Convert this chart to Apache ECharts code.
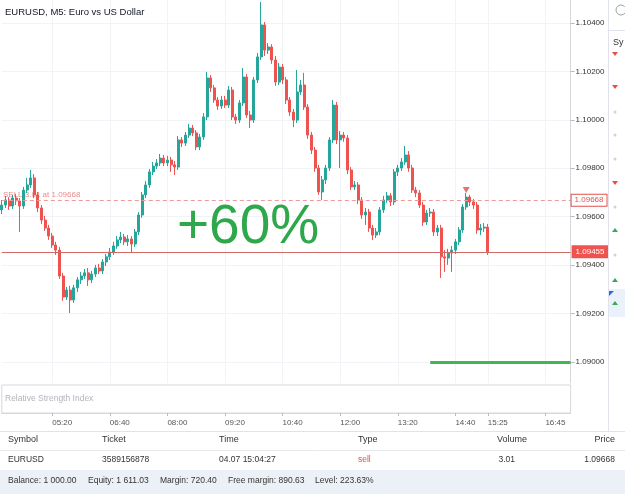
<!DOCTYPE html>
<html>
<head>
<meta charset="utf-8">
<title>EURUSD, M5</title>
<script src="https://cdn.jsdelivr.net/npm/echarts@6/dist/echarts.min.js"></script>
<style>
  html, body { margin: 0; padding: 0; background: #fff; }
  #chart { width: 625px; height: 494px; }
</style>
</head>
<body>
<div id="chart"></div>
<script>
// right axis ticks
const priceTicks = [1.09000, 1.09200, 1.09400, 1.09600, 1.09800, 1.10000, 1.10200, 1.10400];
// bottom time labels
const timeTicks = ['05:20', '06:40', '08:00', '09:20', '10:40', '12:00', '13:20', '14:40', '15:25', '16:45'];

// M5 bars, the first one is 04:10, the last one 15:25
const opens = [
  1.09628,1.09648,1.09669,1.09644,1.09677,1.09665,1.09644,1.09710,1.09731,1.09760,
  1.09690,1.09636,1.09586,1.09553,1.09520,1.09483,1.09462,1.09355,1.09268,1.09297,
  1.09256,1.09306,1.09339,1.09355,1.09368,1.09339,1.09363,1.09388,1.09376,1.09413,
  1.09434,1.09454,1.09479,1.09504,1.09516,1.09496,1.09508,1.09487,1.09537,1.09607,
  1.09690,1.09731,1.09785,1.09809,1.09822,1.09842,1.09822,1.09834,1.09814,1.09805,
  1.09917,1.09904,1.09937,1.09966,1.09946,1.09888,1.09929,1.10012,1.10173,1.10132,
  1.10082,1.10057,1.10082,1.10061,1.10123,1.10012,1.09999,1.10070,1.10177,1.10020,
  1.09999,1.10165,1.10260,1.10392,1.10288,1.10301,1.10247,1.10156,1.10218,1.10165,
  1.10082,1.10032,1.09999,1.10115,1.10144,1.10053,1.09937,1.09875,1.09801,1.09702,
  1.09752,1.09801,1.09917,1.10061,1.09917,1.09937,1.09925,1.09793,1.09723,1.09731,
  1.09669,1.09607,1.09619,1.09553,1.09524,1.09537,1.09628,1.09669,1.09686,1.09661,
  1.09785,1.09801,1.09826,1.09855,1.09801,1.09710,1.09698,1.09648,1.09578,1.09615,
  1.09619,1.09537,1.09553,1.09434,1.09429,1.09450,1.09462,1.09496,1.09545,1.09640,
  1.09681,1.09661,1.09648,1.09545,1.09553,1.09557
];
const closes = [
  1.09648,1.09669,1.09644,1.09677,1.09665,1.09644,1.09710,1.09731,1.09760,1.09690,
  1.09636,1.09586,1.09553,1.09520,1.09483,1.09462,1.09355,1.09268,1.09297,1.09256,
  1.09306,1.09339,1.09355,1.09368,1.09339,1.09363,1.09388,1.09376,1.09413,1.09434,
  1.09454,1.09479,1.09504,1.09516,1.09496,1.09508,1.09487,1.09537,1.09607,1.09690,
  1.09731,1.09785,1.09809,1.09822,1.09842,1.09822,1.09834,1.09814,1.09805,1.09917,
  1.09904,1.09937,1.09966,1.09946,1.09888,1.09929,1.10012,1.10173,1.10132,1.10082,
  1.10057,1.10082,1.10061,1.10123,1.10012,1.09999,1.10070,1.10177,1.10020,1.09999,
  1.10165,1.10260,1.10392,1.10288,1.10301,1.10247,1.10156,1.10218,1.10165,1.10082,
  1.10032,1.09999,1.10115,1.10144,1.10053,1.09937,1.09875,1.09801,1.09702,1.09752,
  1.09801,1.09917,1.10061,1.09917,1.09937,1.09925,1.09793,1.09723,1.09731,1.09669,
  1.09607,1.09619,1.09553,1.09524,1.09537,1.09628,1.09669,1.09686,1.09661,1.09785,
  1.09801,1.09826,1.09855,1.09801,1.09710,1.09698,1.09648,1.09578,1.09615,1.09619,
  1.09537,1.09553,1.09434,1.09429,1.09450,1.09462,1.09496,1.09545,1.09640,1.09681,
  1.09661,1.09648,1.09545,1.09553,1.09557,1.09455
];
const lows = [
  1.09611,1.09636,1.09628,1.09632,1.09648,1.09537,1.09632,1.09698,1.09719,1.09677,
  1.09619,1.09570,1.09541,1.09504,1.09471,1.09442,1.09343,1.09252,1.09256,1.09202,
  1.09244,1.09289,1.09322,1.09343,1.09314,1.09326,1.09351,1.09363,1.09363,1.09396,
  1.09421,1.09442,1.09467,1.09491,1.09483,1.09479,1.09454,1.09475,1.09524,1.09595,
  1.09677,1.09719,1.09772,1.09797,1.09809,1.09809,1.09809,1.09785,1.09772,1.09793,
  1.09888,1.09892,1.09925,1.09933,1.09875,1.09875,1.09917,1.09999,1.10115,1.10070,
  1.10041,1.10045,1.10049,1.10049,1.09999,1.09983,1.09987,1.10057,1.10008,1.09966,
  1.09987,1.10152,1.10247,1.10264,1.10272,1.10231,1.10140,1.10144,1.10148,1.10065,
  1.10016,1.09970,1.09987,1.10103,1.10041,1.09921,1.09859,1.09785,1.09690,1.09669,
  1.09735,1.09789,1.09904,1.09900,1.09801,1.09909,1.09776,1.09710,1.09710,1.09652,
  1.09591,1.09566,1.09537,1.09504,1.09512,1.09524,1.09615,1.09657,1.09644,1.09648,
  1.09768,1.09789,1.09814,1.09785,1.09698,1.09681,1.09636,1.09562,1.09566,1.09599,
  1.09520,1.09520,1.09347,1.09372,1.09401,1.09372,1.09446,1.09483,1.09533,1.09628,
  1.09644,1.09632,1.09529,1.09524,1.09537,1.09442
];
const highs = [
  1.09669,1.09686,1.09681,1.09690,1.09694,1.09677,1.09723,1.09760,1.09793,1.09776,
  1.09702,1.09648,1.09603,1.09566,1.09533,1.09496,1.09475,1.09368,1.09310,1.09314,
  1.09318,1.09351,1.09372,1.09384,1.09388,1.09376,1.09401,1.09405,1.09425,1.09446,
  1.09471,1.09496,1.09520,1.09537,1.09529,1.09524,1.09520,1.09549,1.09619,1.09702,
  1.09747,1.09797,1.09826,1.09838,1.09859,1.09855,1.09851,1.09847,1.09830,1.09933,
  1.09929,1.09950,1.09983,1.09979,1.09958,1.09942,1.10028,1.10198,1.10185,1.10144,
  1.10094,1.10099,1.10099,1.10140,1.10136,1.10024,1.10082,1.10214,1.10189,1.10037,
  1.10177,1.10276,1.10487,1.10404,1.10317,1.10313,1.10264,1.10235,1.10231,1.10177,
  1.10094,1.10045,1.10206,1.10165,1.10194,1.10065,1.09950,1.09888,1.09814,1.09768,
  1.09814,1.09929,1.10082,1.10074,1.09954,1.09950,1.09937,1.09805,1.09747,1.09743,
  1.09681,1.09636,1.09632,1.09566,1.09553,1.09640,1.09686,1.09702,1.09698,1.09797,
  1.09814,1.09842,1.09892,1.09871,1.09814,1.09723,1.09710,1.09661,1.09628,1.09636,
  1.09632,1.09566,1.09566,1.09462,1.09467,1.09479,1.09508,1.09557,1.09652,1.09698,
  1.09690,1.09673,1.09661,1.09570,1.09574,1.09570
];

// open trade and levels
const sellPrice = 1.09668;
const lastPrice = 1.09455;
const targetPrice = 1.09000;
const sellBar = '14:55';
const targetFrom = '14:05';

// time slots of the x axis (04:10 .. 17:20, 5 min)
const times = [];
for (let m = 4 * 60 + 10; m <= 17 * 60 + 20; m += 5) {
  times.push(String(Math.floor(m / 60)).padStart(2, '0') + ':' + String(m % 60).padStart(2, '0'));
}

const candles = opens.map((o, i) => [o, closes[i], lows[i], highs[i]]);

const FF = '"Liberation Sans", Arial, sans-serif';
const isTimeTick = (i, v) => timeTicks.indexOf(v) >= 0;

function text(x, y, s, size, color, align) {
  return {
    type: 'text', silent: true, z: 100,
    style: {
      x: x, y: y, text: s, fill: color, font: size + 'px ' + FF,
      align: align || 'left', textAlign: align || 'left',
      verticalAlign: 'middle', textVerticalAlign: 'middle'
    }
  };
}
function hline(x1, x2, y, color, w) {
  return { type: 'line', silent: true, z: 90, shape: { x1: x1, y1: y, x2: x2, y2: y }, style: { stroke: color, lineWidth: w || 1 } };
}
function tri(cx, cy, up, color) {
  const p = up ? [[cx - 3, cy + 2], [cx + 3, cy + 2], [cx, cy - 2]] : [[cx - 3, cy - 2], [cx + 3, cy - 2], [cx, cy + 2]];
  return { type: 'polygon', silent: true, z: 100, shape: { points: p }, style: { fill: color } };
}
function dot(cx, cy) {
  return { type: 'circle', silent: true, z: 100, shape: { cx: cx, cy: cy, r: 1.5 }, style: { fill: '#cfd2d6' } };
}

// label of the open sell position, sits under the candles
const sellLabel = text(3, 195, 'SELL 3.01 at ' + sellPrice.toFixed(5), 8, '#e98b8b');
sellLabel.z = 1;

const graphics = [
  // title and big result
  text(5, 12, 'EURUSD, M5: Euro vs US Dollar', 9.5, '#131722'),
  {
    type: 'text', silent: true, z: 100,
    style: { x: 177, y: 228, text: '+60%', fill: '#2ea84a', font: '55px ' + FF, verticalAlign: 'middle', textVerticalAlign: 'middle' }
  },
  text(5, 399, 'Relative Strength Index', 8.5, '#b2b5be'),
  sellLabel,

  // right side panel
  { type: 'line', silent: true, z: 90, shape: { x1: 608.5, y1: 0, x2: 608.5, y2: 432 }, style: { stroke: '#e0e3eb', lineWidth: 1 } },
  hline(608, 625, 30.5, '#e0e3eb'),
  { type: 'arc', silent: true, z: 100, shape: { cx: 621, cy: 10, r: 5, startAngle: 0.6, endAngle: 5.6 }, style: { stroke: '#9aa0a8', lineWidth: 1, fill: 'none' } },
  text(613, 43, 'Sy', 9, '#333'),
  { type: 'rect', silent: true, z: 95, shape: { x: 609, y: 289, width: 16, height: 28 }, style: { fill: '#eaf1fa' } },
  { type: 'polygon', silent: true, z: 100, shape: { points: [[609, 291], [614, 291], [609, 296]] }, style: { fill: '#2962ff' } },
  tri(615, 54, false, '#e0504d'), tri(615, 87, false, '#e0504d'), tri(615, 183, false, '#e0504d'),
  dot(615, 112), dot(615, 135), dot(615, 159), dot(615, 207), dot(615, 255),
  tri(615, 230, true, '#3aa856'), tri(615, 280, true, '#3aa856'), tri(615, 303, true, '#3aa856'),

  // positions table
  hline(0, 625, 431.5, '#e0e3eb'),
  text(8, 440, 'Symbol', 9, '#333'),
  text(102, 440, 'Ticket', 9, '#333'),
  text(219, 440, 'Time', 9, '#333'),
  text(358, 440, 'Type', 9, '#333'),
  text(527, 440, 'Volume', 9, '#333', 'right'),
  text(615, 440, 'Price', 9, '#333', 'right'),
  hline(0, 625, 450.5, '#e6e8ec'),
  text(8, 460, 'EURUSD', 8.5, '#333'),
  text(102, 460, '3589156878', 8.5, '#333'),
  text(219, 460, '04.07 15:04:27', 8.5, '#333'),
  text(358, 460, 'sell', 8.5, '#e0504d'),
  text(515, 460, '3.01', 8.5, '#333', 'right'),
  text(615, 460, '1.09668', 8.5, '#333', 'right'),
  { type: 'rect', silent: true, z: 80, shape: { x: 0, y: 470, width: 625, height: 24 }, style: { fill: '#ecf1f7' } },
  text(8, 481, 'Balance: 1 000.00', 8.5, '#333'),
  text(88, 481, 'Equity: 1 611.03', 8.5, '#333'),
  text(160, 481, 'Margin: 720.40', 8.5, '#333'),
  text(228, 481, 'Free margin: 890.63', 8.5, '#333'),
  text(315, 481, 'Level: 223.63%', 8.5, '#333')
];

const chart = echarts.init(document.getElementById('chart'));
chart.setOption({
  animation: false,
  backgroundColor: '#fff',
  grid: [
    { left: 1.8, right: 54.4, top: 0, height: 383 },
    { left: 1.8, right: 54.4, top: 385, height: 28, show: true, borderColor: '#d6d8dc', borderWidth: 1 }
  ],
  xAxis: [
    {
      type: 'category', gridIndex: 0, data: times, boundaryGap: false,
      axisLine: { show: false }, axisTick: { show: false }, axisLabel: { show: false },
      splitLine: { show: true, interval: isTimeTick, lineStyle: { color: '#f1f3f6', width: 1 } }
    },
    {
      type: 'category', gridIndex: 1, data: times, boundaryGap: false,
      axisLine: { show: true, lineStyle: { color: '#d6d8dc' } },
      axisTick: { show: true, interval: isTimeTick, length: 3, lineStyle: { color: '#b8bbc1' } },
      axisLabel: { show: true, interval: isTimeTick, align: 'left', margin: 6, fontSize: 8, color: '#555', fontFamily: FF },
      splitLine: { show: false }
    }
  ],
  yAxis: [
    {
      type: 'value', gridIndex: 0, position: 'right', scale: true,
      min: 1.08913, max: 1.10495,
      axisLine: { show: true, lineStyle: { color: '#d6d8dc' } },
      axisTick: { show: true, customValues: priceTicks, length: 4, lineStyle: { color: '#b8bbc1' } },
      axisLabel: { show: true, customValues: priceTicks, margin: 5, fontSize: 8, color: '#333', fontFamily: FF, formatter: v => v.toFixed(5) },
      splitLine: { show: true, lineStyle: { color: '#f1f3f6', width: 1 } }
    },
    {
      type: 'value', gridIndex: 1, position: 'right', min: 0, max: 100,
      axisLine: { show: false }, axisTick: { show: false }, axisLabel: { show: false }, splitLine: { show: false }
    }
  ],
  series: [
    {
      name: 'EURUSD', type: 'candlestick', xAxisIndex: 0, yAxisIndex: 0,
      data: candles, barWidth: 2.5, clip: true, z: 3,
      itemStyle: { color: '#26a69a', color0: '#ef5350', borderColor: '#26a69a', borderColor0: '#ef5350', borderWidth: 1 },
      markLine: {
        silent: true, symbol: ['none', 'none'], animation: false, precision: 5,
        data: [
          {
            yAxis: sellPrice,
            lineStyle: { color: '#ec9a9a', type: [4, 3], width: 1 },
            label: {
              show: true, position: 'end', distance: 1, formatter: sellPrice.toFixed(5),
              color: '#e0504d', backgroundColor: '#fff', borderColor: '#e0504d', borderWidth: 1,
              padding: [2, 3, 1, 3], fontSize: 8, fontFamily: FF
            }
          },
          {
            yAxis: lastPrice,
            lineStyle: { color: '#cf6a66', type: 'solid', width: 1 },
            label: {
              show: true, position: 'end', distance: 1, formatter: lastPrice.toFixed(5),
              color: '#fff', backgroundColor: '#ef5350', padding: [3, 4, 2, 4], fontSize: 8, fontFamily: FF
            }
          },
          [
            { coord: [targetFrom, targetPrice], lineStyle: { color: '#43b653', width: 3, type: 'solid' }, label: { show: false } },
            { coord: [times[times.length - 1], targetPrice] }
          ]
        ]
      }
    },
    {
      name: 'sell', type: 'scatter', xAxisIndex: 0, yAxisIndex: 0,
      data: [[sellBar, highs[times.indexOf(sellBar)]]],
      symbol: 'triangle', symbolRotate: 180, symbolSize: [7, 6], symbolOffset: [0, -3],
      itemStyle: { color: '#e0504d' }, z: 5
    },
    {
      name: 'RSI', type: 'line', xAxisIndex: 1, yAxisIndex: 1, data: [], showSymbol: false
    }
  ],
  graphic: graphics
});
</script>
</body>
</html>
